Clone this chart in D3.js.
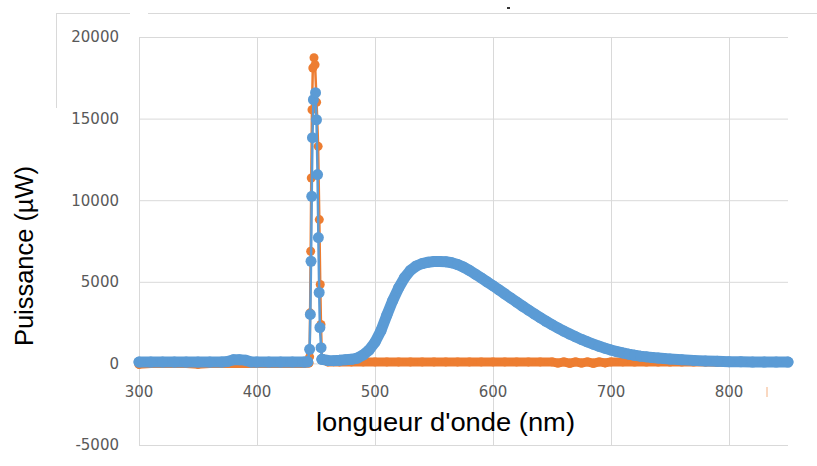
<!DOCTYPE html>
<html>
<head>
<meta charset="utf-8">
<script src="https://cdn.jsdelivr.net/npm/d3@7"></script>
<style>
  html, body { margin: 0; padding: 0; background: #fff; }
  svg { display: block; }
</style>
</head>
<body>
<svg id="chart" width="817" height="466"></svg>
<script>
// ---------- data ----------
const xTicks = [300, 400, 500, 600, 700, 800];
const yTicks = [-5000, 0, 5000, 10000, 15000, 20000];
const xTitle = "longueur d'onde (nm)";
const yTitle = "Puissance (µW)";

// orange series (drawn first)
const orangeNm = [300, 310, 320, 330, 340, 350, 360, 370, 380, 390, 400, 410, 420, 430, 440, 444,
  444.6, 445.0, 445.5, 446.0, 446.6, 447.3, 448.3, 449.2, 450.5, 451.8, 452.8, 453.6, 454.2, 455.0,
  460, 470, 480, 490, 500, 510, 520, 530, 540, 550, 560, 570, 580, 590, 600, 610, 620, 630, 640,
  650, 655, 660, 665, 670, 675, 680, 685, 690, 695, 700, 710, 720, 730, 740, 750, 760, 770, 780,
  790, 800, 810, 820, 830, 838];
const orangeVal = [-60, 0, 0, 0, 0, -60, 0, 0, 0, 0, 0, 0, 0, 0, 0, 20,
  400, 3100, 6870, 11360, 15540, 18100, 18730, 18300, 16000, 13300, 8810, 4835, 2390, 300,
  90, 90, 90, 90, 90, 90, 90, 90, 90, 90, 90, 90, 90, 90, 90, 90, 90, 90, 90,
  90, 20, 90, 10, 90, 20, 90, 10, 90, 30, 90, 90, 80, 80, 80, 80, 80, 80, 80,
  70, 70, 70, 70, 60, 60];

// blue series (drawn on top)
const blueNm = [300, 310, 320, 330, 340, 350, 360, 370, 375, 380, 385, 390, 395, 400, 410, 420, 430, 440, 443,
  444.6, 445.2, 445.8, 446.4, 447.0, 447.8, 449.6, 450.4, 451.3, 452.0, 452.7, 453.3, 454.3,
  455, 460, 465, 470, 475, 480, 485, 490, 495, 500, 505, 510, 515, 520, 525, 530, 535, 540, 545,
  550, 555, 560, 565, 570, 575, 580, 585, 590, 595, 600, 605, 610, 615, 620, 625, 630, 635, 640,
  645, 650, 655, 660, 665, 670, 675, 680, 685, 690, 695, 700, 705, 710, 715, 720, 725, 730, 735,
  740, 745, 750, 760, 770, 780, 790, 800, 810, 820, 830, 840, 850];
const blueVal = [80, 80, 80, 80, 80, 80, 80, 85, 120, 220, 230, 200, 90, 80, 80, 80, 80, 80, 100,
  860, 3000, 6260, 10240, 13830, 16160, 16590, 14930, 11570, 7710, 4345, 2200, 960,
  250, 180, 170, 190, 220, 250, 330, 520, 820, 1300, 2000, 2950, 3850, 4620, 5250, 5700, 5970, 6120, 6200,
  6240, 6250, 6230, 6170, 6060, 5900, 5700, 5470, 5240, 5000, 4760, 4510, 4260, 4010, 3760, 3510, 3270, 3030, 2800,
  2580, 2370, 2170, 1980, 1800, 1630, 1470, 1320, 1180, 1050, 930, 820, 725, 640, 565, 500, 445, 400, 360,
  325, 295, 270, 225, 185, 150, 125, 105, 95, 85, 80, 80, 80];

const series = [
  { name: "orange", nm: orangeNm, val: orangeVal, color: "#ED7D31", r: 4.5 },
  { name: "blue", nm: blueNm, val: blueVal, color: "#5B9BD5", r: 5.5 }
];

// ---------- layout ----------
const svg = d3.select("#chart");
const x = d3.scaleLinear().domain([300, 850]).range([139, 788]);
const y = d3.scaleLinear().domain([-5000, 20000]).range([445, 37]);
const gridColor = "#D9D9D9";
const labelColor = "#595959";

// outer frame fragments
svg.append("line").attr("x1", 56.5).attr("x2", 56.5).attr("y1", 13.5).attr("y2", 108)
  .attr("stroke", gridColor).attr("stroke-width", 1);
svg.append("line").attr("x1", 56).attr("x2", 130).attr("y1", 13.5).attr("y2", 13.5)
  .attr("stroke", gridColor).attr("stroke-width", 1);
svg.append("line").attr("x1", 148).attr("x2", 817).attr("y1", 13.5).attr("y2", 13.5)
  .attr("stroke", gridColor).attr("stroke-width", 1);
svg.append("rect").attr("x", 507).attr("y", 7).attr("width", 3).attr("height", 2).attr("fill", "#333");

// gridlines
const gy = svg.append("g").attr("transform", `translate(${x.range()[0]},0)`)
  .call(d3.axisLeft(y).tickValues(yTicks).tickSize(-(x.range()[1] - x.range()[0])).tickFormat(""));
gy.select(".domain").remove();
gy.selectAll(".tick line").attr("stroke", gridColor).attr("stroke-width", 1);

const gx = svg.append("g").attr("transform", `translate(0,${y.range()[0]})`)
  .call(d3.axisBottom(x).tickValues(xTicks).tickSize(-(y.range()[0] - y.range()[1])).tickFormat(""));
gx.select(".domain").remove();
gx.selectAll(".tick line").attr("stroke", gridColor).attr("stroke-width", 1);

// y tick labels
svg.append("g").selectAll("text").data(yTicks).join("text")
  .attr("x", 119).attr("y", d => y(d)).attr("dy", "0.36em")
  .attr("text-anchor", "end")
  .attr("font-family", "DejaVu Sans").attr("font-size", 15).attr("fill", labelColor)
  .text(d => d);

// x tick labels
svg.append("g").selectAll("text").data(xTicks).join("text")
  .attr("x", d => x(d)).attr("y", 396.5)
  .attr("text-anchor", "middle")
  .attr("font-family", "DejaVu Sans").attr("font-size", 15).attr("fill", labelColor)
  .text(d => d);

// axis titles
svg.append("text").attr("x", 445.5).attr("y", 431)
  .attr("text-anchor", "middle").attr("font-family", "Liberation Sans, Arial, sans-serif")
  .attr("font-size", 25).attr("fill", "#000")
  .attr("textLength", 259).attr("lengthAdjust", "spacingAndGlyphs").text(xTitle);
svg.append("text").attr("transform", "translate(33,256) rotate(-90)")
  .attr("text-anchor", "middle").attr("font-family", "Liberation Sans, Arial, sans-serif")
  .attr("font-size", 25).attr("fill", "#000")
  .attr("textLength", 180).attr("lengthAdjust", "spacingAndGlyphs").text(yTitle);

// ---------- series ----------
series.forEach(s => {
  const pts = s.nm.map((n, i) => ({ nm: n, v: s.val[i] }));
  const g = svg.append("g");
  // dense marker band (overlapping markers) outside the narrow spike
  const band = d3.line().x(d => x(d.nm)).y(d => y(d.v))
    .defined(d => d.nm <= 444 || d.nm >= 455);
  g.append("path").attr("d", band(pts)).attr("fill", "none")
    .attr("stroke", s.color).attr("stroke-width", s.r * 2)
    .attr("stroke-linecap", "round").attr("stroke-linejoin", "round");
  // thin connecting line
  const line = d3.line().x(d => x(d.nm)).y(d => y(d.v));
  g.append("path").attr("d", line(pts)).attr("fill", "none")
    .attr("stroke", s.color).attr("stroke-width", 2.5).attr("stroke-linejoin", "round");
  // markers
  g.selectAll("circle").data(pts).join("circle")
    .attr("cx", d => x(d.nm)).attr("cy", d => y(d.v)).attr("r", s.r)
    .attr("fill", s.color);
});

// small orange mark near the right of the x labels
svg.append("line").attr("x1", 767).attr("x2", 767).attr("y1", 387).attr("y2", 397)
  .attr("stroke", "#F4B183").attr("stroke-width", 1);
</script>
</body>
</html>
